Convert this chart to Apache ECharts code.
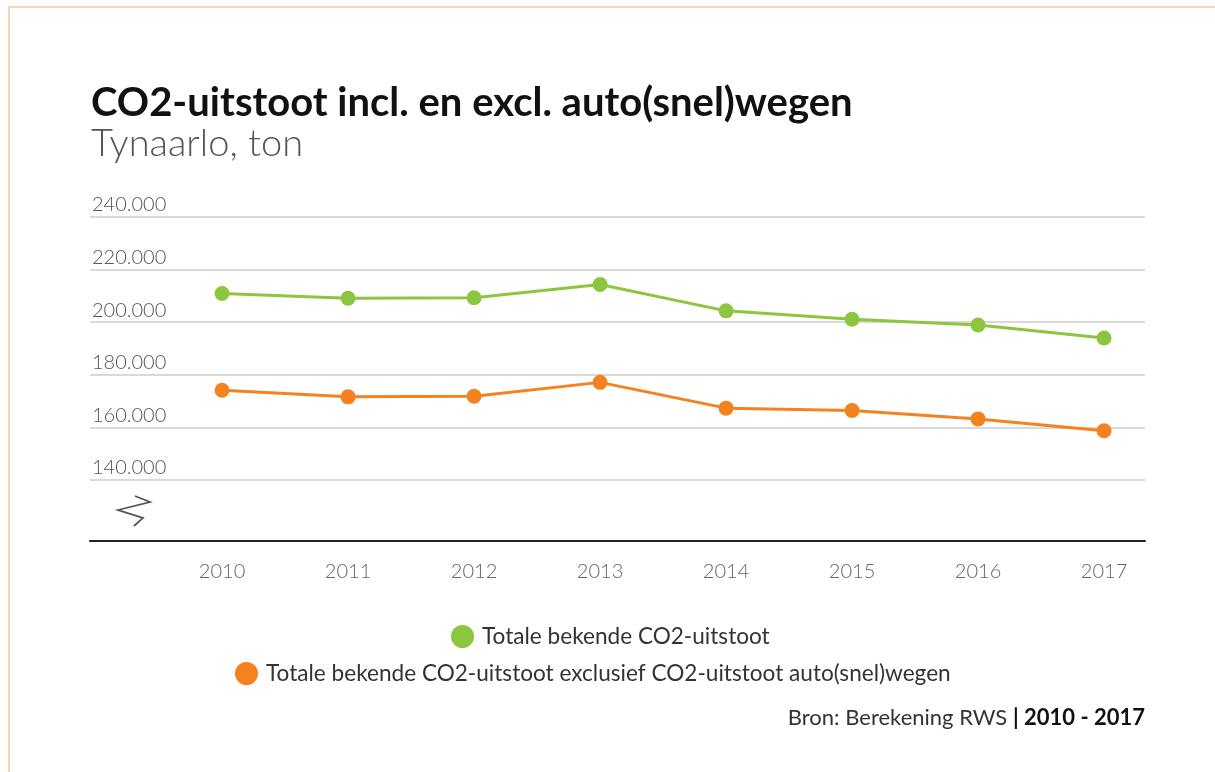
<!DOCTYPE html>
<html>
<head>
<meta charset="utf-8">
<script src="https://cdn.jsdelivr.net/npm/echarts@6/dist/echarts.min.js"></script>
<style>
  html, body { margin: 0; padding: 0; background: #fff; }
  #chart { width: 1215px; height: 772px; }
</style>
</head>
<body>
<div id="chart"></div>
<script>
// CO2-uitstoot Tynaarlo, ton
const years = [2010, 2011, 2012, 2013, 2014, 2015, 2016, 2017];
const totaal = [210900, 209100, 209300, 214300, 204300, 201100, 198900, 194000];
const exclWegen = [174100, 171600, 171800, 177100, 167300, 166400, 163200, 158700];
const yTicks = [140000, 160000, 180000, 200000, 220000, 240000];

const GREEN = '#8cc63e';
const ORANGE = '#f5821f';
const FONT = 'Lato, "Noto Sans", sans-serif';

const nl = v => String(v).replace(/\B(?=(\d{3})+(?!\d))/g, '.');

const chart = echarts.init(document.getElementById('chart'));

function lineSeries(name, values, color) {
  return {
    name,
    type: 'line',
    data: years.map((y, i) => [y, values[i]]),
    color,
    symbol: 'circle',
    symbolSize: 15,
    lineStyle: { color, width: 3 },
    itemStyle: { color },
    z: 5,
    animation: false,
  };
}

const legendText = { fontFamily: FONT, fontSize: 22.6, color: '#333', padding: [0, 0, 0, 3] };

chart.setOption({
  animation: false,
  textStyle: { fontFamily: FONT },
  title: [{
    text: 'CO2-uitstoot incl. en excl. auto(snel)wegen',
    subtext: 'Tynaarlo, ton',
    left: 86,
    top: 78,
    itemGap: 2,
    textStyle: { fontFamily: FONT, fontSize: 40, fontWeight: 'bold', color: '#111' },
    subtextStyle: { fontFamily: FONT, fontSize: 38, fontWeight: 300, color: '#555' },
  }, {
    text: '{a|Bron: Berekening RWS }{b|| 2010 - 2017}',
    right: 65,
    top: 702,
    textStyle: {
      fontWeight: 'normal',
      rich: {
        a: { fontFamily: FONT, fontSize: 22, color: '#333', fontWeight: 'normal' },
        b: { fontFamily: FONT, fontSize: 22, color: '#111', fontWeight: 'bold' },
      },
    },
  }],
  legend: [{
    data: ['Totale bekende CO2-uitstoot'],
    left: 446,
    top: 620,
    icon: 'circle',
    itemWidth: 23,
    itemHeight: 23,
    textStyle: legendText,
  }, {
    data: ['Totale bekende CO2-uitstoot exclusief CO2-uitstoot auto(snel)wegen'],
    left: 230,
    top: 657,
    icon: 'circle',
    itemWidth: 23,
    itemHeight: 23,
    textStyle: legendText,
  }],
  grid: { left: 90, right: 70, top: 217, bottom: 231, containLabel: false },
  xAxis: {
    type: 'value',
    min: 2008.952,
    max: 2017.325,
    axisLine: { show: true, lineStyle: { color: '#222', width: 2 } },
    axisTick: { show: false },
    splitLine: { show: false },
    axisLabel: {
      customValues: years,
      formatter: v => String(v),
      margin: 21,
      fontSize: 20,
      color: '#666',
      fontFamily: FONT,
      fontWeight: 300,
    },
  },
  yAxis: {
    type: 'value',
    min: 116762,
    max: 240000,
    axisLine: { show: false },
    axisTick: { show: false },
    axisLabel: { show: false },
    splitLine: { show: false },
  },
  graphic: [
    // frame edges
    { type: 'line', shape: { x1: 8, y1: 7, x2: 1215, y2: 7 }, style: { stroke: '#fbd6b2', lineWidth: 2 } },
    { type: 'line', shape: { x1: 9, y1: 7, x2: 9, y2: 772 }, style: { stroke: '#fbd6b2', lineWidth: 2 } },
    // axis break mark
    {
      type: 'polyline',
      shape: { points: [[135, 496], [150, 502], [118, 510], [143, 518], [134, 526]] },
      style: { stroke: '#555', lineWidth: 1.8, fill: null },
    },
  ],
  series: [
    {
      name: 'grid',
      type: 'line',
      data: [],
      z: 1,
      markLine: {
        silent: true,
        symbol: 'none',
        animation: false,
        lineStyle: { color: '#d9d9d9', width: 2, type: 'solid' },
        label: {
          show: true,
          position: 'insideStartTop',
          distance: [2, 2],
          formatter: p => nl(p.value),
          fontSize: 20,
          fontWeight: 300,
          color: '#555',
          fontFamily: FONT,
        },
        data: yTicks.map(v => ({ yAxis: v })),
      },
    },
    lineSeries('Totale bekende CO2-uitstoot', totaal, GREEN),
    lineSeries('Totale bekende CO2-uitstoot exclusief CO2-uitstoot auto(snel)wegen', exclWegen, ORANGE),
  ],
});
</script>
</body>
</html>
